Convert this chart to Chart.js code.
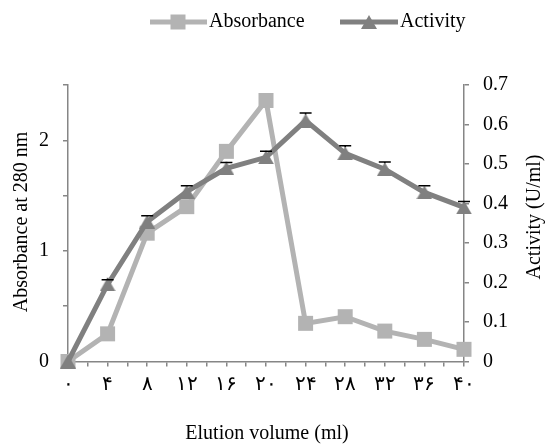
<!DOCTYPE html>
<html>
<head>
<meta charset="utf-8">
<script src="https://cdn.jsdelivr.net/npm/chart.js@4.4.0/dist/chart.umd.min.js"></script>
<style>
  html, body { margin: 0; padding: 0; background: #fff; }
  #wrap { width: 547px; height: 445px; }
</style>
</head>
<body>
<div id="wrap"><canvas id="chart" width="547" height="445"></canvas></div>
<script>
// Dados
const volumes = [0, 4, 8, 12, 16, 20, 24, 28, 32, 36, 40];
const volumeLabels = ["۰", "۴", "۸", "۱۲", "۱۶", "۲۰", "۲۴", "۲۸", "۳۲", "۳۶", "۴۰"];
const absorbance = [0, 0.25, 1.16, 1.40, 1.90, 2.36, 0.345, 0.405, 0.275, 0.20, 0.11];
const activity = [0, 0.195, 0.354, 0.43, 0.489, 0.517, 0.61, 0.527, 0.487, 0.428, 0.39];
const activityErr = [0, 0.012, 0.015, 0.015, 0.015, 0.015, 0.019, 0.019, 0.018, 0.017, 0.015];

const corAbs = "#b3b3b3";
const corAct = "#808080";
const corEixo = "#868686";
const fonte = "'Liberation Serif', 'Times New Roman', serif";

// Triângulo no estilo do Excel (centrado na caixa)
function criarTriangulo(w, h, cor) {
  const c = document.createElement("canvas");
  c.width = w; c.height = h;
  const ctx = c.getContext("2d");
  ctx.fillStyle = cor;
  ctx.beginPath();
  ctx.moveTo(0, h);
  ctx.lineTo(w / 2, 0);
  ctx.lineTo(w, h);
  ctx.closePath();
  ctx.fill();
  return c;
}
const triangulo = criarTriangulo(16, 14, corAct);

// Barras de erro, legenda e títulos dos eixos
const extras = {
  id: "extras",
  afterDatasetsDraw(chart) {
    const ctx = chart.ctx;
    const meta = chart.getDatasetMeta(1);
    const y = chart.scales.y1;
    ctx.save();
    ctx.strokeStyle = "#000";
    ctx.lineWidth = 1.5;
    meta.data.forEach((pt, i) => {
      if (!activityErr[i]) return;
      const yTop = y.getPixelForValue(activity[i] + activityErr[i]);
      ctx.beginPath();
      ctx.moveTo(pt.x, pt.y - 6);
      ctx.lineTo(pt.x, yTop);
      ctx.moveTo(pt.x - 6, yTop);
      ctx.lineTo(pt.x + 6, yTop);
      ctx.stroke();
    });
    ctx.restore();
  },
  afterDraw(chart) {
    const ctx = chart.ctx;
    const area = chart.chartArea;
    ctx.save();
    ctx.fillStyle = "#000";
    ctx.font = "20px " + fonte;
    ctx.textBaseline = "middle";

    // Legenda
    const ly = 22;
    ctx.strokeStyle = corAbs;
    ctx.lineWidth = 5;
    ctx.beginPath(); ctx.moveTo(150, ly); ctx.lineTo(207, ly); ctx.stroke();
    ctx.fillStyle = corAbs;
    ctx.fillRect(178 - 7.5, ly - 7.5, 15, 15);
    ctx.fillStyle = "#000";
    ctx.textAlign = "left";
    ctx.fillText("Absorbance", 209, ly);

    ctx.strokeStyle = corAct;
    ctx.beginPath(); ctx.moveTo(340, ly); ctx.lineTo(398, ly); ctx.stroke();
    ctx.drawImage(triangulo, 369 - 8, ly - 7);
    ctx.fillText("Activity", 400, ly);

    // Título do eixo X
    ctx.textAlign = "center";
    ctx.fillText("Elution volume (ml)", 267, 434);

    // Títulos dos eixos Y
    ctx.save();
    ctx.translate(22, 222);
    ctx.rotate(-Math.PI / 2);
    ctx.fillText("Absorbance at 280 nm", 0, 0);
    ctx.restore();

    ctx.save();
    ctx.translate(535, 217);
    ctx.rotate(-Math.PI / 2);
    ctx.fillText("Activity (U/ml)", 0, 0);
    ctx.restore();

    ctx.restore();
  }
};

const eixoComum = {
  grid: { drawOnChartArea: false, drawTicks: true, tickLength: 5, color: corEixo, lineWidth: 1.5 },
  border: { color: corEixo, width: 1.5 }
};

new Chart(document.getElementById("chart"), {
  type: "line",
  data: {
    datasets: [
      {
        label: "Absorbance",
        data: volumes.map((v, i) => ({ x: v, y: absorbance[i] })),
        yAxisID: "y",
        borderColor: corAbs,
        backgroundColor: corAbs,
        borderWidth: 5,
        pointStyle: "rect",
        pointRadius: 10.6,
        pointBorderWidth: 0,
        tension: 0,
        clip: false,
        order: 2
      },
      {
        label: "Activity",
        data: volumes.map((v, i) => ({ x: v, y: activity[i] })),
        yAxisID: "y1",
        borderColor: corAct,
        backgroundColor: corAct,
        borderWidth: 5,
        pointStyle: triangulo,
        pointRadius: 8,
        tension: 0,
        clip: false,
        order: 1
      }
    ]
  },
  options: {
    responsive: false,
    animation: false,
    layout: { padding: { top: 85, left: 0, right: 0, bottom: 0 } },
    plugins: { legend: { display: false }, tooltip: { enabled: false } },
    scales: {
      x: {
        type: "linear",
        min: 0,
        max: 40,
        ...eixoComum,
        afterFit(s) { s.height = 83.5; },
        ticks: {
          stepSize: 2,
          autoSkip: false,
          maxRotation: 0,
          padding: 6,
          color: "#000",
          font: { family: fonte, size: 20 },
          callback: v => {
            const i = volumes.indexOf(v);
            return i >= 0 ? volumeLabels[i] : "";
          }
        }
      },
      y: {
        position: "left",
        min: 0,
        max: 2.5,
        ...eixoComum,
        afterFit(s) { s.width = 68; },
        ticks: {
          stepSize: 0.5,
          padding: 14,
          color: "#000",
          font: { family: fonte, size: 20 },
          callback: v => (v % 1 === 0 ? String(v) : "")
        }
      },
      y1: {
        position: "right",
        min: 0,
        max: 0.7,
        ...eixoComum,
        afterFit(s) { s.width = 83; },
        ticks: {
          stepSize: 0.05,
          padding: 14,
          color: "#000",
          font: { family: fonte, size: 20 },
          callback: v => {
            const n = Math.round(v * 100);
            if (n % 10 !== 0) return "";
            return n === 0 ? "0" : (n / 100).toFixed(1);
          }
        }
      }
    }
  },
  plugins: [extras]
});
</script>
</body>
</html>
